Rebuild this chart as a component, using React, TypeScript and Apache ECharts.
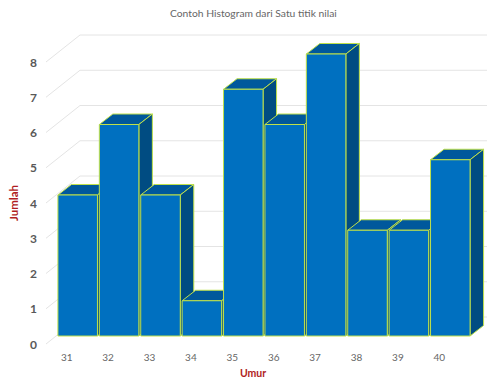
import React, { useEffect, useRef } from "react";
import * as echarts from "echarts";

const ages = ["31", "32", "33", "34", "35", "36", "37", "38", "39", "40"];
const counts = [4, 6, 4, 1, 7, 6, 8, 3, 3, 5];
const levels = [0, 1, 2, 3, 4, 5, 6, 7, 8];

const titleText = "Contoh Histogram dari Satu titik nilai";
const xName = "Umur";
const yName = "Jumlah";

// Projection of the 3D look: a shift per unit of depth on the screen.
const WALL_DEPTH = [34, -27];
const BAR_OFFSET = [11, -8];
const BAR_DEPTH = [13.5, -10.5];
const BAR_FILL = 0.955;

const FRONT = "#0070c0";
const TOP = "#00589c";
const SIDE = "#004c82";
const EDGE = "#bfe04a";
const FONT = "Lato, 'Open Sans', sans-serif";

// Wall lines: a diagonal on the side wall followed by a level line on the back wall.
function renderWall(params: any, api: any) {
  const level = api.value(0);
  const band = api.size([1, 0])[0];
  const [cx, y0] = api.coord([0, level]);
  const x0 = cx - band / 2;
  const xb = x0 + WALL_DEPTH[0];
  const yb = y0 + WALL_DEPTH[1];
  return {
    type: "polyline",
    silent: true,
    shape: { points: [[x0, y0], [xb, yb], [487, yb]] },
    style: { fill: "none", stroke: "#e4e4e4", lineWidth: 1 },
  };
}

// One box: front face plus the top and right faces pushed back by the depth.
function renderBar(params: any, api: any) {
  const idx = api.value(0);
  const val = api.value(1);
  const [cx, yTop] = api.coord([idx, val]);
  const [, yBase] = api.coord([idx, 0]);
  const w = api.size([1, 0])[0] * BAR_FILL;
  const l = cx - w / 2 + BAR_OFFSET[0];
  const r = l + w;
  const t = yTop + BAR_OFFSET[1];
  const b = yBase + BAR_OFFSET[1];
  const [dx, dy] = BAR_DEPTH;
  const edge = { stroke: EDGE, lineWidth: 1, lineJoin: "round" };
  return {
    type: "group",
    children: [
      {
        type: "polygon",
        shape: { points: [[l, t], [l + dx, t + dy], [r + dx, t + dy], [r, t]] },
        style: { fill: TOP, ...edge },
      },
      {
        type: "polygon",
        shape: { points: [[r, t], [r + dx, t + dy], [r + dx, b + dy], [r, b]] },
        style: { fill: SIDE, ...edge },
      },
      {
        type: "rect",
        shape: { x: l, y: t, width: w, height: b - t },
        style: { fill: FRONT, ...edge },
      },
    ],
  };
}

export default function App() {
  const ref = useRef<HTMLDivElement>(null);

  useEffect(() => {
    const chart = echarts.init(ref.current!, null, { renderer: "svg" });
    chart.setOption({
      animation: false,
      backgroundColor: "#ffffff",
      textStyle: { fontFamily: FONT },
      title: {
        text: titleText,
        left: 165,
        top: 3,
        textStyle: { fontSize: 10.3, fontWeight: "normal", color: "#666666", fontFamily: FONT },
      },
      grid: { left: 46, top: 62, width: 414, height: 282, outerBoundsMode: "none" },
      xAxis: {
        type: "category",
        data: ages,
        name: xName,
        nameLocation: "middle",
        nameGap: 23,
        nameTextStyle: { color: "#b01c22", fontWeight: "bold", fontSize: 10.5, fontFamily: FONT },
        axisLine: { show: false },
        axisTick: { show: false },
        axisLabel: { color: "#666666", fontSize: 10, margin: 8, fontFamily: FONT },
      },
      yAxis: {
        type: "value",
        min: 0,
        max: 8,
        interval: 1,
        name: yName,
        nameLocation: "middle",
        nameGap: 22,
        nameTextStyle: { color: "#b01c22", fontWeight: "bold", fontSize: 11.5, fontFamily: FONT },
        axisLine: { show: false },
        axisTick: { show: false },
        splitLine: { show: false },
        axisLabel: { color: "#595959", fontSize: 12, fontWeight: "bold", margin: 9, fontFamily: FONT },
      },
      series: [
        {
          type: "custom",
          coordinateSystem: "cartesian2d",
          renderItem: renderWall,
          data: levels.map((v) => [v]),
          encode: { y: 0 },
          clip: false,
          silent: true,
          z: 1,
        },
        {
          type: "custom",
          coordinateSystem: "cartesian2d",
          renderItem: renderBar,
          data: counts.map((v, i) => [i, v]),
          encode: { x: 0, y: 1 },
          clip: false,
          silent: true,
          z: 2,
        },
      ],
    });
    return () => chart.dispose();
  }, []);

  return <div ref={ref} style={{ position: "absolute", left: 0, top: 0, width: 487, height: 379 }} />;
}
